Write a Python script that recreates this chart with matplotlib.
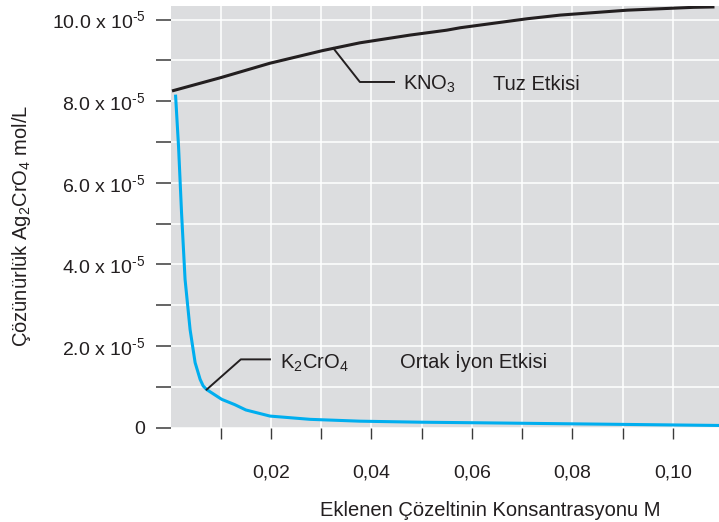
# coding:utf-8
# Ag2CrO4 çözünürlüğü: tuz etkisi ve ortak iyon etkisi

import matplotlib
matplotlib.use("Agg")
import matplotlib.pyplot as plt

plt.rcParams["font.family"] = ["Liberation Sans", "DejaVu Sans"]
plt.rcParams["mathtext.fontset"] = "custom"
plt.rcParams["mathtext.rm"] = "Liberation Sans"
plt.rcParams["mathtext.it"] = "Liberation Sans"
plt.rcParams["mathtext.default"] = "regular"

# KNO3 eklenince (tuz etkisi), birim 1e-5 mol/L
kno3_x = [0.0003, 0.0101, 0.0198, 0.0303, 0.0377, 0.0477, 0.0550, 0.0577,
          0.0710, 0.0776, 0.0909, 0.1041, 0.1083]
kno3_y = [8.25, 8.58, 8.93, 9.24, 9.43, 9.62, 9.74, 9.80,
          10.02, 10.11, 10.23, 10.30, 10.31]

# K2CrO4 eklenince (ortak iyon etkisi)
k2cro4_x = [0.0010, 0.0016, 0.0022, 0.0029, 0.0039, 0.0049, 0.0059, 0.0065,
            0.0072, 0.0102, 0.0128, 0.0150, 0.0198, 0.0278, 0.0377, 0.0497,
            0.0617, 0.0800, 0.1093]
k2cro4_y = [8.16, 6.89, 5.26, 3.63, 2.40, 1.59, 1.18, 1.02,
            0.93, 0.69, 0.56, 0.43, 0.28, 0.20, 0.155, 0.13,
            0.115, 0.09, 0.05]

x_ticks = [0.01, 0.02, 0.03, 0.04, 0.05, 0.06, 0.07, 0.08, 0.09, 0.10]
x_labels = ["", "0,02", "", "0,04", "", "0,06", "", "0,08", "", "0,10"]
y_ticks = [0, 1, 2, 3, 4, 5, 6, 7, 8, 9, 10]
y_labels = ["0", "", "2.0 x 10$^{\\text{-5}}$", "", "4.0 x 10$^{\\text{-5}}$", "",
            "6.0 x 10$^{\\text{-5}}$", "", "8.0 x 10$^{\\text{-5}}$", "",
            "10.0 x 10$^{\\text{-5}}$"]

text_color = "#231f20"
blue = "#00aeef"

fig = plt.figure(figsize=(7.19, 5.22), dpi=100)
ax = fig.add_axes([170.5/719, 1 - 427.5/522, 1 - 170.5/719, 421.8/522])
ax.set_facecolor("#dcdddf")
ax.set_axisbelow(True)
ax.grid(True, color="white", linewidth=1.1)

ax.plot(kno3_x, kno3_y, color=text_color, linewidth=2.2, solid_capstyle="butt")
ax.plot(k2cro4_x, k2cro4_y, color=blue, linewidth=2.2, solid_capstyle="butt")

ax.set_xlim(0, 0.1092)
ax.set_ylim(0, 10.34)
for s in ax.spines.values():
    s.set_visible(False)

ax.set_xticks(x_ticks)
ax.set_xticklabels(x_labels)
ax.set_yticks(y_ticks)
ax.set_yticklabels(y_labels)
ax.tick_params(axis="x", length=8, width=1.0, color="#3a3a3a", pad=19,
               labelsize=14, labelcolor=text_color)
ax.tick_params(axis="y", length=11, width=1.1, color="#3a3a3a", pad=7,
               labelsize=14, labelcolor=text_color)

# KNO3 açıklama çizgisi
ax.plot([0.0324, 0.0377, 0.0445], [9.30, 8.47, 8.47], color=text_color, linewidth=1.4)
ax.text(0.0463, 8.27, "KNO$_3$", fontsize=14.5, color=text_color, va="baseline")
ax.text(0.0642, 8.27, "Tuz Etkisi", fontsize=14.5, color=text_color, va="baseline")

# K2CrO4 açıklama çizgisi
ax.plot([0.0072, 0.0140, 0.0198], [0.93, 1.67, 1.67], color=text_color, linewidth=1.4)
ax.text(0.0218, 1.45, "K$_2$CrO$_4$", fontsize=14.5, color=text_color, va="baseline")
ax.text(0.0457, 1.45, "Ortak İyon Etkisi", fontsize=14.5, color=text_color, va="baseline")

fig.text(22/719, 1 - 226/522, "Çözünürlük Ag$_2$CrO$_4$ mol/L", rotation=90,
         ha="center", va="center", fontsize=14.5, color=text_color)
fig.text(490/719, 1 - 510/522, "Eklenen Çözeltinin Konsantrasyonu M",
         ha="center", va="center", fontsize=14.5, color=text_color)

plt.savefig("out.png", dpi=100)
plt.close()
